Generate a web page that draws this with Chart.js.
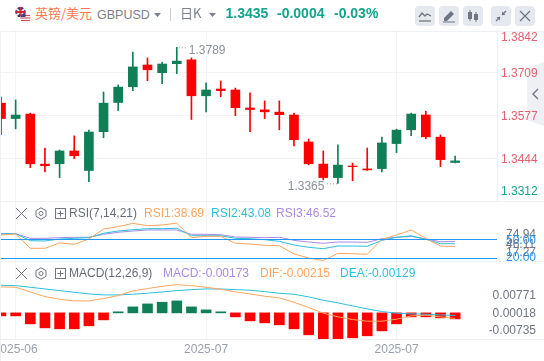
<!DOCTYPE html>
<html>
<head>
<meta charset="utf-8">
<script src="https://cdn.jsdelivr.net/npm/chart.js@4/dist/chart.umd.min.js"></script>
<style>
html, body { margin: 0; padding: 0; background: #fff; }
body { width: 544px; height: 361px; overflow: hidden; position: relative; font-family: "Liberation Sans", "Noto Sans CJK SC", sans-serif; font-size: 12px; }
canvas { position: absolute; left: -30px; }
.t { position: absolute; white-space: nowrap; line-height: 16px; }
.sep { position: absolute; left: 0; width: 544px; height: 1px; background: #eef0f4; }
.btn { position: absolute; top: 6px; width: 20px; height: 20px; border-radius: 4px; background: #e6e8ef; }
.btn svg, .ic { position: absolute; }
</style>
</head>
<body>
<!-- side tab, stays under the axis labels -->
<svg class="ic" style="left:527px;top:62px" width="17" height="64"><path d="M17 0 V64 L0 58 V6 Z" fill="#eef0f4"/><path d="M11 27 L6 32 L11 37" fill="none" stroke="#6f7584" stroke-width="1.4"/></svg>

<canvas id="mainChart" width="574" height="171" style="top:30px"></canvas>
<canvas id="rsiChart" width="574" height="61" style="top:201px"></canvas>
<canvas id="macdChart" width="574" height="99" style="top:262px"></canvas>

<div class="sep" style="top:31px"></div>
<div class="sep" style="top:201px"></div>
<div class="sep" style="top:261px"></div>
<div class="sep" style="top:339px"></div>
<div style="position:absolute;left:0;top:31px;width:1px;height:330px;background:#eef0f4"></div>

<!-- header -->
<svg class="ic" style="left:15px;top:6px" width="17" height="18" viewBox="0 0 17 18">
  <circle cx="5.5" cy="6" r="5.2" fill="#27346f"/>
  <path d="M1 2.5 L10 9.5 M10 2.5 L1 9.5" stroke="#fff" stroke-width="1.6"/>
  <path d="M5.5 1 V11 M0.5 6 H10.5" stroke="#d8263a" stroke-width="2"/>
  <circle cx="10.5" cy="12" r="5.2" fill="#f1f1f4"/>
  <path d="M6 9.5 H15 M5.4 12 H15.6 M6 14.5 H15" stroke="#d8475a" stroke-width="1.2"/>
  <path d="M5.5 12 A5.2 5.2 0 0 1 10.5 6.8 V11 H5.5 Z" fill="#35477f"/>
</svg>
<div class="t" style="left:35px;top:5px;font-size:13px;color:#ff7a50;font-family:'Noto Sans CJK SC'">英镑/美元</div>
<div class="t" style="left:97px;top:7px;font-size:12.5px;color:#7a808c">GBPUSD</div>
<svg class="ic" style="left:154px;top:13px" width="7" height="4"><path d="M0 0H7L3.5 4Z" fill="#7a808c"/></svg>
<div style="position:absolute;left:170px;top:8px;width:1px;height:13px;background:#c9ccd4"></div>
<div class="t" style="left:180px;top:5px;font-size:13px;color:#7a808c;font-family:'Noto Sans CJK SC'">日K</div>
<svg class="ic" style="left:209px;top:13px" width="7" height="4"><path d="M0 0H7L3.5 4Z" fill="#7a808c"/></svg>
<div class="t" style="left:225.5px;top:5px;font-size:14px;font-weight:bold;color:#12a48c">1.3435</div>
<div class="t" style="left:277px;top:5px;font-size:14px;font-weight:bold;color:#12a48c">-0.0004</div>
<div class="t" style="left:334px;top:5px;font-size:14px;font-weight:bold;color:#12a48c">-0.03%</div>

<div class="btn" style="left:415px"><svg width="20" height="20"><path d="M4 11 L7 7 L10 10 L12 8 L16 10" fill="none" stroke="#6f7584" stroke-width="1.3"/><path d="M4 15H16" stroke="#6f7584" stroke-width="1.3"/></svg></div>
<div class="btn" style="left:439px"><svg width="20" height="20"><path d="M5 12 L12 5 L15 8 L8 15 H5 Z" fill="#6f7584"/><path d="M4 16H16" stroke="#6f7584"/></svg></div>
<div class="btn" style="left:463px"><svg width="20" height="20"><path d="M7 4V15 M13 6V16" stroke="#6f7584"/><rect x="5" y="6" width="4" height="7" fill="#6f7584"/><rect x="11" y="8" width="4" height="6" fill="#6f7584"/></svg></div>
<div class="btn" style="left:491px"><svg width="20" height="20"><path d="M15 5 L11 9 M5 15 L9 11" stroke="#6f7584" stroke-width="1.3"/><path d="M11 5.5V9H14.5Z M9 14.5V11H5.5Z" fill="#6f7584"/></svg></div>
<div class="btn" style="left:515px"><svg width="20" height="20"><path d="M5 5 L15 15 M15 5 L5 15" stroke="#6f7584" stroke-width="1.2"/></svg></div>

<!-- RSI row -->
<svg class="ic" style="left:15px;top:207px" width="52" height="13"><path d="M1 1 L12 12 M12 1 L1 12" stroke="#6f7584"/><path d="M26 0.8 L31 3.6 V9.4 L26 12.2 L21 9.4 V3.6 Z" fill="none" stroke="#6f7584"/><circle cx="26" cy="6.5" r="2" fill="none" stroke="#6f7584"/><rect x="40.5" y="1.5" width="10" height="10" fill="none" stroke="#6f7584"/><path d="M42.5 6.5H48.5 M45.5 3.5V9.5" stroke="#6f7584"/></svg>
<div class="t" style="left:69px;top:205px;color:#666c78">RSI(7,14,21)</div>
<div class="t" style="left:144px;top:205px;color:#ffa45c">RSI1:38.69</div>
<div class="t" style="left:211px;top:205px;color:#2bbfdc">RSI2:43.08</div>
<div class="t" style="left:276px;top:205px;color:#a98ae6">RSI3:46.52</div>

<!-- MACD row -->
<svg class="ic" style="left:15px;top:267px" width="52" height="13"><path d="M1 1 L12 12 M12 1 L1 12" stroke="#6f7584"/><path d="M26 0.8 L31 3.6 V9.4 L26 12.2 L21 9.4 V3.6 Z" fill="none" stroke="#6f7584"/><circle cx="26" cy="6.5" r="2" fill="none" stroke="#6f7584"/><rect x="40.5" y="1.5" width="10" height="10" fill="none" stroke="#6f7584"/><path d="M42.5 6.5H48.5 M45.5 3.5V9.5" stroke="#6f7584"/></svg>
<div class="t" style="left:69px;top:265px;color:#666c78">MACD(12,26,9)</div>
<div class="t" style="left:163px;top:265px;color:#a98ae6">MACD:-0.00173</div>
<div class="t" style="left:260px;top:265px;color:#ffa45c">DIF:-0.00215</div>
<div class="t" style="left:340px;top:265px;color:#2bbfdc">DEA:-0.00129</div>

<script>
const opens  = [1.3567,1.3578,1.3426,1.3420,1.3466,1.3451,1.3525,1.3615,1.3665,1.3728,1.3719,1.3737,1.3746,1.3638,1.3656,1.3654,1.3601,1.3595,1.3588,1.3579,1.3501,1.3426,1.3383,1.3422,1.3417,1.3407,1.3491,1.3531,1.3581,1.3510,1.3439,1.3435];
const highs  = [1.3634,1.3625,1.3584,1.3475,1.3469,1.3513,1.3531,1.3650,1.3672,1.3774,1.3756,1.3743,1.3789,1.3756,1.3678,1.3684,1.3662,1.3647,1.3622,1.3622,1.3584,1.3503,1.3466,1.3485,1.3428,1.3475,1.3509,1.3534,1.3584,1.3590,1.3516,1.3450];
const lows   = [1.3517,1.3535,1.3414,1.3401,1.3383,1.3442,1.3370,1.3507,1.3592,1.3654,1.3685,1.3676,1.3707,1.3564,1.3588,1.3635,1.3576,1.3526,1.3567,1.3532,1.3482,1.3423,1.3376,1.3365,1.3373,1.3405,1.3401,1.3461,1.3514,1.3504,1.3417,1.3429];
const closes = [1.3615,1.3567,1.3581,1.3425,1.3426,1.3466,1.3405,1.3526,1.3617,1.3666,1.3734,1.3710,1.3738,1.3750,1.3638,1.3659,1.3656,1.3600,1.3594,1.3587,1.3578,1.3494,1.3425,1.3383,1.3419,1.3410,1.3411,1.3489,1.3532,1.3578,1.3509,1.3430];

const rsi1 = [56.6,58.2,36.1,36.1,44.3,42.3,50.4,65.9,69.5,74.7,71.0,72.1,74.94,52.5,54.6,54.6,43.8,42.7,40.7,40.1,27.3,21.1,17.27,28.3,27.7,26.8,49.7,56.6,64.4,51.5,39.6,38.69];
const rsi2 = [58.6,58.6,47.8,47.4,50.4,51.5,52.5,59.3,62.8,64.8,66.4,66.4,67.0,55.5,55.5,55.5,51.5,50.9,49.4,46.9,41.2,37.6,35.5,39.6,39.6,39.2,48.4,53.1,55.5,50.0,43.2,43.08];
const rsi3 = [58.6,58.6,51.5,51.5,52.5,53.1,53.1,57.7,60.8,62.8,64.4,64.4,64.4,57.7,57.7,57.1,53.5,53.1,52.5,53.1,48.4,45.8,43.8,45.8,45.8,45.3,50.9,53.1,54.6,50.4,46.3,46.52];
const rsiLevels = [20,50];

const dif = [.00735,.00725,.00593,.00462,.00386,.00339,.00339,.00405,.00490,.00622,.00688,.00754,.00800,.00772,.00725,.00669,.00593,.00537,.00471,.00424,.00301,.00151,-.00009,-.00113,-.00188,-.00236,-.00236,-.00179,-.00085,-.00066,-.00113,-.00160];
const dea = [.00782,.00772,.00725,.00678,.00631,.00584,.00537,.00509,.00509,.00528,.00556,.00593,.00631,.00659,.00678,.00678,.00659,.00641,.00603,.00556,.00528,.00452,.00358,.00283,.00198,.00113,.00038,-.00009,-.00028,-.00038,-.00057,-.00075];
const hist = [-.00085,-.00085,-.00311,-.00424,-.00452,-.00452,-.00367,-.00198,.00030,.00170,.00254,.00301,.00339,.00170,.00085,.00030,-.00113,-.00226,-.00283,-.00339,-.00452,-.00622,-.00735,-.00735,-.00707,-.00650,-.00509,-.00311,-.00113,-.00113,-.00141,-.00170];

const dateTicks = ['2025-06','2025-07','2025-07'];
const dateTickIndex = [1,14,27];
const priceGrid = [1.3444,1.3577,1.3709];
const priceLabels = ['1.3842','1.3709','1.3577','1.3444','1.3312'];
const rsiLabels = ['74.94','50.00','46.11','17.27','20.00'];
const macdLabels = ['0.00771','0.00018','-0.00735'];

const RED = '#ff0000', GREEN = '#107f58', GRID = '#f2f3f7', ORANGE = '#ffa45c', CYAN = '#2bbfdc', PURPLE = '#a98ae6', BLUE = '#2196f3';
// where the axis labels sit, they are squeezed inside the panel so not on their real value
const priceLabelPos = [1.3818,1.3706,1.3572,1.3438,1.3338];
const rsiLabelPos = [57.7,48.4,41.2,29.9,21.1];
const macdLabelPos = [.00489,-.00020,-.00500];

Chart.defaults.font.family = '"Liberation Sans", sans-serif';
Chart.defaults.font.size = 12;
Chart.defaults.animation = false;
Chart.defaults.plugins.legend.display = false;
Chart.defaults.plugins.tooltip.enabled = false;

const xMin = -0.068, xMax = 33.86;
const pts = arr => arr.map((v, i) => ({x: i, y: v}));
const toTicks = arr => scale => { scale.ticks = arr.map(v => ({value: v})); };

function xAxis(showLabels, max = xMax) {
    return {
        type: 'linear', min: xMin, max: max, offset: false,
        afterBuildTicks: toTicks(dateTickIndex),
        afterFit: s => { if (showLabels) s.height = 22; },
        border: {display: false},
        grid: {color: GRID, offset: false, drawTicks: false},
        ticks: {
            display: showLabels, autoSkip: false, maxRotation: 0, padding: 3, color: '#9aa0ac',
            callback: (v, i) => dateTicks[i]
        }
    };
}

function labelAxis(min, max, pos, texts, colorOf, extra, width = 47) {
    return Object.assign({
        position: 'right', min, max,
        afterBuildTicks: toTicks(pos),
        // no room kept for half a label above and below, the plot fills the panel
        afterFit: s => { s.width = width; s.paddingTop = 0; s.paddingBottom = 0; },
        border: {display: false},
        grid: {display: false, drawTicks: false},
    }, extra, {
        ticks: Object.assign({
            autoSkip: false, color: c => colorOf(c.index),
            callback: (v, i) => texts[i]
        }, extra.ticks)
    });
}

function lineSet(values, color) {
    return {type: 'line', data: pts(values), borderColor: color, borderWidth: 1, pointRadius: 0, tension: 0, order: 1};
}

// price labels at the extremes, with the little dotted leader
const extremeLabels = {
    id: 'extremeLabels',
    afterDatasetsDraw(chart) {
        const {ctx, scales: {x, y}} = chart;
        const hi = highs.indexOf(Math.max(...highs));
        const lo = lows.indexOf(Math.min(...lows));
        ctx.save();
        ctx.fillStyle = ctx.strokeStyle = '#8b909c';
        ctx.font = '12px "Liberation Sans"';
        ctx.textBaseline = 'middle';
        ctx.setLineDash([1, 2]);
        ctx.beginPath();
        ctx.moveTo(x.getPixelForValue(hi) + 2, y.getPixelForValue(highs[hi]) + 0.5);
        ctx.lineTo(x.getPixelForValue(hi) + 10, y.getPixelForValue(highs[hi]) + 0.5);
        ctx.moveTo(x.getPixelForValue(lo) - 11, y.getPixelForValue(lows[lo]) + 0.5);
        ctx.lineTo(x.getPixelForValue(lo) - 1, y.getPixelForValue(lows[lo]) + 0.5);
        ctx.stroke();
        ctx.textAlign = 'left';
        ctx.fillText(highs[hi].toFixed(4), x.getPixelForValue(hi) + 12, y.getPixelForValue(highs[hi]) + 3);
        ctx.textAlign = 'right';
        ctx.fillText(lows[lo].toFixed(4), x.getPixelForValue(lo) - 13.5, y.getPixelForValue(lows[lo]) + 3.5);
        ctx.restore();
    }
};

new Chart(document.getElementById('mainChart'), {
    type: 'bar',
    data: {
        datasets: [
            {
                data: opens.map((o, i) => ({x: i, y: [lows[i], highs[i]]})),
                backgroundColor: closes.map((c, i) => c >= opens[i] ? RED : GREEN),
                barThickness: 1, grouped: false, order: 2
            },
            {
                data: opens.map((o, i) => ({x: i, y: [o, closes[i]]})),
                backgroundColor: closes.map((c, i) => c >= opens[i] ? RED : GREEN),
                barThickness: 9, grouped: false, order: 1
            }
        ]
    },
    plugins: [extremeLabels],
    options: {
        responsive: false,
        layout: {padding: {left: 30}},
        scales: {
            x: xAxis(false),
            y: {
                position: 'right', min: 1.3310, max: 1.3843,
                afterBuildTicks: toTicks(priceGrid),
                afterFit: s => { s.width = 0; },
                border: {display: false},
                grid: {color: GRID, drawTicks: false},
                ticks: {display: false}
            },
            yLabels: labelAxis(1.3310, 1.3843, priceLabelPos, priceLabels,
                i => i === 4 ? '#12a48c' : '#e4606d',
                {border: {display: true, color: '#eef0f4'}, ticks: {padding: 4}})
        }
    }
});

new Chart(document.getElementById('rsiChart'), {
    type: 'line',
    data: {
        datasets: [lineSet(rsi1, ORANGE), lineSet(rsi2, CYAN), lineSet(rsi3, PURPLE)]
    },
    options: {
        responsive: false,
        layout: {padding: {left: 30}},
        scales: {
            x: xAxis(false),
            y: {
                position: 'right', min: 14.9, max: 109.2,
                afterBuildTicks: toTicks(rsiLevels),
                afterFit: s => { s.width = 0; },
                border: {display: false},
                grid: {color: BLUE, drawTicks: false, z: 1},
                ticks: {display: false}
            },
            yLabels: labelAxis(14.9, 109.2, rsiLabelPos, rsiLabels,
                i => (i === 1 || i === 4) ? BLUE : '#6f7584',
                {ticks: {padding: 9}})
        }
    }
});

new Chart(document.getElementById('macdChart'), {
    type: 'bar',
    data: {
        datasets: [
            {
                data: pts(hist),
                backgroundColor: hist.map(v => v >= 0 ? GREEN : RED),
                barThickness: 10, grouped: false, order: 2
            },
            lineSet(dif, ORANGE),
            lineSet(dea, CYAN)
        ]
    },
    options: {
        responsive: false,
        // labels are right aligned and clipped to the scale box, so the box is wider
        // here and the plot stops at 486px, the x range is cut to keep the same spacing
        layout: {padding: {left: 30, right: 8}},
        scales: {
            x: xAxis(true, 33.105),
            y: {
                position: 'right', min: -.0074, max: .01441,
                afterBuildTicks: toTicks([]),
                afterFit: s => { s.width = 0; },
                border: {display: false},
                grid: {display: false, drawTicks: false},
                ticks: {display: false}
            },
            yLabels: labelAxis(-.0074, .01441, macdLabelPos, macdLabels,
                () => '#6f7584',
                {ticks: {padding: 0, crossAlign: 'far'}}, 50)
        }
    }
});
</script>
</body>
</html>
